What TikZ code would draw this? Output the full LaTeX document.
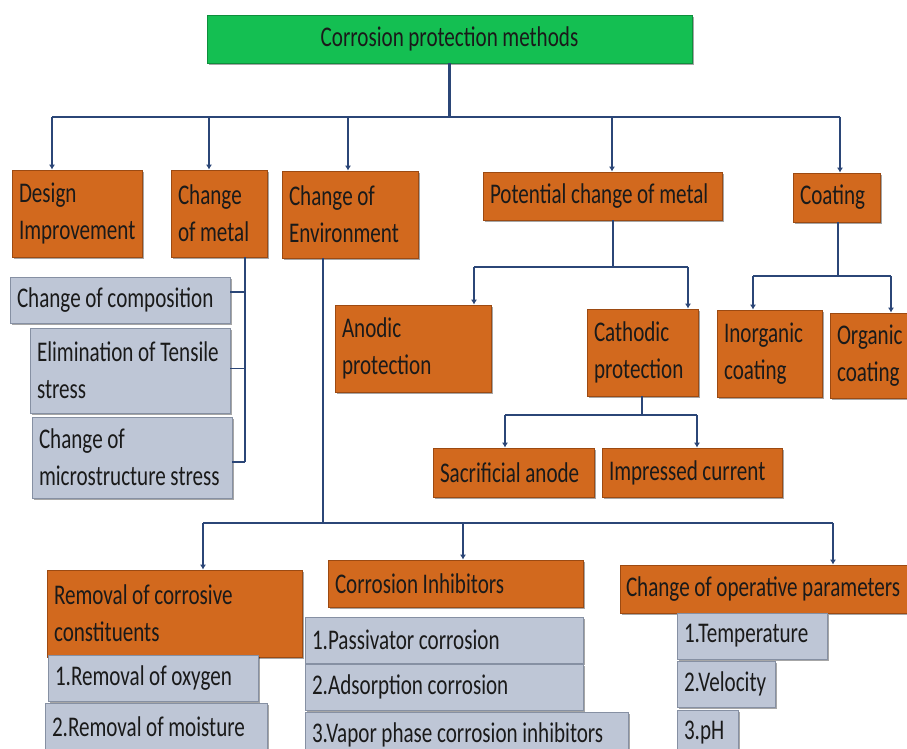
\documentclass[tikz,border=0pt]{standalone}
\usepackage{fontspec}
\setmainfont{Carlito}[FakeStretch=0.74]
\usetikzlibrary{arrows.meta,shadows}
\definecolor{orangebox}{HTML}{D2691E}
\definecolor{orangeedge}{HTML}{9C4A12}
\definecolor{graybox}{HTML}{BEC6D6}
\definecolor{grayedge}{HTML}{8690A3}
\definecolor{greenbox}{HTML}{14BF52}
\definecolor{greenedge}{HTML}{0E8E3C}
\definecolor{linecol}{HTML}{2B4677}
\definecolor{txt}{HTML}{1A1A1A}
\newcommand\oneline[1]{\mbox{#1}}
\begin{document}
\begin{tikzpicture}[x=1pt,y=-1pt,
  base/.style={rectangle, inner xsep=7pt, inner ysep=0pt, align=left, text=txt,
    font=\fontsize{28.5}{37}\selectfont, line width=0.8pt,
    execute at begin node={\spaceskip=4.6pt plus 2pt minus 1pt\xspaceskip=4.6pt},
    drop shadow={shadow xshift=2pt,shadow yshift=-2pt,opacity=0.35,fill=black}},
  obox/.style={base, fill=orangebox, draw=orangeedge},
  gbox/.style={base, fill=graybox, draw=grayedge},
  topbox/.style={base, fill=greenbox, draw=greenedge, align=center},
  ln/.style={draw=linecol, line width=2.4pt},
  thinln/.style={draw=linecol, line width=1.6pt},
  arr/.style={ln, -{Latex[length=5pt,width=6pt]}},
  thinarr/.style={thinln, -{Latex[length=5pt,width=6pt]}}]
\useasboundingbox (0,0) rectangle (907,749);
\fill[white] (0,0) rectangle (907,749);

% top
\node[topbox, minimum width=485pt, minimum height=48pt] (top) at (449.5,39) {Corrosion protection methods};

% first row
\node[obox, minimum width=130pt, minimum height=87pt, text width=116pt] (des) at (77,213.5) {\oneline{Design}\\\oneline{Improvement}};
\node[obox, minimum width=96pt, minimum height=87pt, text width=82pt] (met) at (219,213.5) {\oneline{Change}\\\oneline{of metal}};
\node[obox, minimum width=136pt, minimum height=87pt, text width=122pt] (env) at (350,214.5) {\oneline{Change of}\\\oneline{Environment}};
\node[obox, minimum width=239pt, minimum height=48pt, text width=225pt] (pot) at (602.5,196) {\oneline{Potential change of metal}};
\node[obox, minimum width=87pt, minimum height=49pt, text width=73pt] (coat) at (836.5,197.5) {\oneline{Coating}};

% change of metal children
\node[gbox, minimum width=220pt, minimum height=46pt, text width=206pt] (comp) at (120,300) {\oneline{Change of composition}};
\node[gbox, minimum width=200pt, minimum height=85pt, text width=186pt] (tens) at (130,370.5) {\oneline{Elimination of Tensile}\\\oneline{stress}};
\node[gbox, minimum width=200pt, minimum height=81pt, text width=186pt] (micro) at (132,457.5) {\oneline{Change of}\\\oneline{microstructure stress}};

% potential / coating children
\node[obox, minimum width=156pt, minimum height=87pt, text width=142pt] (ano) at (413,348.5) {\oneline{Anodic}\\\oneline{protection}};
\node[obox, minimum width=111pt, minimum height=87pt, text width=97pt] (cat) at (642.5,352.5) {\oneline{Cathodic}\\\oneline{protection}};
\node[obox, minimum width=105pt, minimum height=87pt, text width=91pt] (inorg) at (769.5,353.5) {\oneline{Inorganic}\\\oneline{coating}};
\node[obox, minimum width=90pt, minimum height=85pt, text width=76pt] (org) at (875,355.5) {\oneline{Organic}\\\oneline{coating}};
\node[obox, minimum width=161pt, minimum height=49pt, text width=147pt] (sac) at (513.5,472.5) {\oneline{Sacrificial anode}};
\node[obox, minimum width=180pt, minimum height=49pt, text width=166pt] (imp) at (692,472.5) {\oneline{Impressed current}};

% environment children
\node[obox, minimum width=255pt, minimum height=87pt, text width=241pt] (rem) at (174.5,613.5) {\oneline{Removal of corrosive}\\\oneline{constituents}};
\node[gbox, minimum width=210pt, minimum height=46pt, text width=196pt] (oxy) at (153,678) {\oneline{1.Removal of oxygen}};
\node[gbox, minimum width=222pt, minimum height=47pt, text width=208pt] (moi) at (156,726.5) {\oneline{2.Removal of moisture}};
\node[obox, minimum width=255pt, minimum height=47pt, text width=241pt] (inh) at (455.5,583.5) {\oneline{Corrosion Inhibitors}};
\node[gbox, minimum width=278pt, minimum height=46pt, text width=264pt] (pas) at (444,640) {\oneline{1.Passivator corrosion}};
\node[gbox, minimum width=278pt, minimum height=46pt, text width=264pt] (ads) at (444,687) {\oneline{2.Adsorption corrosion}};
\node[gbox, minimum width=323pt, minimum height=46pt, text width=309pt] (vap) at (466.5,735) {\oneline{3.Vapor phase corrosion inhibitors}};
\node[obox, minimum width=300pt, minimum height=48pt, text width=288pt, inner xsep=6pt] (ope) at (770,589) {\oneline{Change of operative parameters}};
\node[gbox, minimum width=150pt, minimum height=46pt, text width=136pt] (tem) at (752,636) {\oneline{1.Temperature}};
\node[gbox, minimum width=98pt, minimum height=46pt, text width=84pt] (vel) at (726,684) {\oneline{2.Velocity}};
\node[gbox, minimum width=61pt, minimum height=46pt, text width=47pt] (ph) at (707.5,733) {\oneline{3.pH}};

% main bus
\coordinate (d1) at (52,117);
\coordinate (d2) at (209,117);
\coordinate (d3) at (348,117);
\coordinate (d4) at (612,117);
\coordinate (d5) at (840,117);
\draw[ln] (top.south) -- (top.south |- d1);
\draw[ln] (d1) -- (d5);
\draw[arr] (d1) -- (d1 |- des.north);
\draw[arr] (d2) -- (d2 |- met.north);
\draw[arr] (d3) -- (d3 |- env.north);
\draw[arr] (d4) -- (d4 |- pot.north);
\draw[arr] (d5) -- (d5 |- coat.north);

% change of metal bracket
\coordinate (mv) at (245,0);
\coordinate (m1) at ([yshift=8pt]comp.east);
\coordinate (m2) at ([yshift=2pt]tens.east);
\coordinate (m3) at ([yshift=-4.5pt]micro.east);
\draw[thinln] (mv |- met.south) -- (mv |- m3);
\draw[thinln] (m1) -- (m1 -| mv);
\draw[thinln] (m2) -- (m2 -| mv);
\draw[thinln] (m3) -- (m3 -| mv);

% potential change bus
\coordinate (p0) at (613,267);
\coordinate (p1) at (474,267);
\coordinate (p2) at (688,267);
\draw[ln] (p0 |- pot.south) -- (p0);
\draw[ln] (p1) -- (p2);
\draw[arr] (p1) -- (p1 |- ano.north);
\draw[arr] (p2) -- (p2 |- cat.north);

% coating bus
\coordinate (c0) at (838,276);
\coordinate (c1) at (753,276);
\coordinate (c2) at (891,276);
\draw[ln] (c0 |- coat.south) -- (c0);
\draw[ln] (c1) -- (c2);
\draw[arr] (c1) -- (c1 |- inorg.north);
\draw[arr] (c2) -- (c2 |- org.north);

% cathodic bus
\coordinate (k0) at (642,415);
\coordinate (k1) at (505,415);
\coordinate (k2) at (697,415);
\draw[ln] (k0 |- cat.south) -- (k0);
\draw[ln] (k1) -- (k2);
\draw[arr] (k1) -- (k1 |- sac.north);
\draw[arr] (k2) -- (k2 |- imp.north);

% environment bus
\coordinate (e0) at (323,523);
\coordinate (e1) at (203,523);
\coordinate (e2) at (463,523);
\coordinate (e3) at (833,523);
\draw[thinln] (e0 |- env.south) -- (e0);
\draw[thinln] (e1) -- (e3);
\draw[thinarr] (e1) -- (e1 |- rem.north);
\draw[thinarr] (e2) -- (e2 |- inh.north);
\draw[thinarr] (e3) -- (e3 |- ope.north);
\end{tikzpicture}
\end{document}
